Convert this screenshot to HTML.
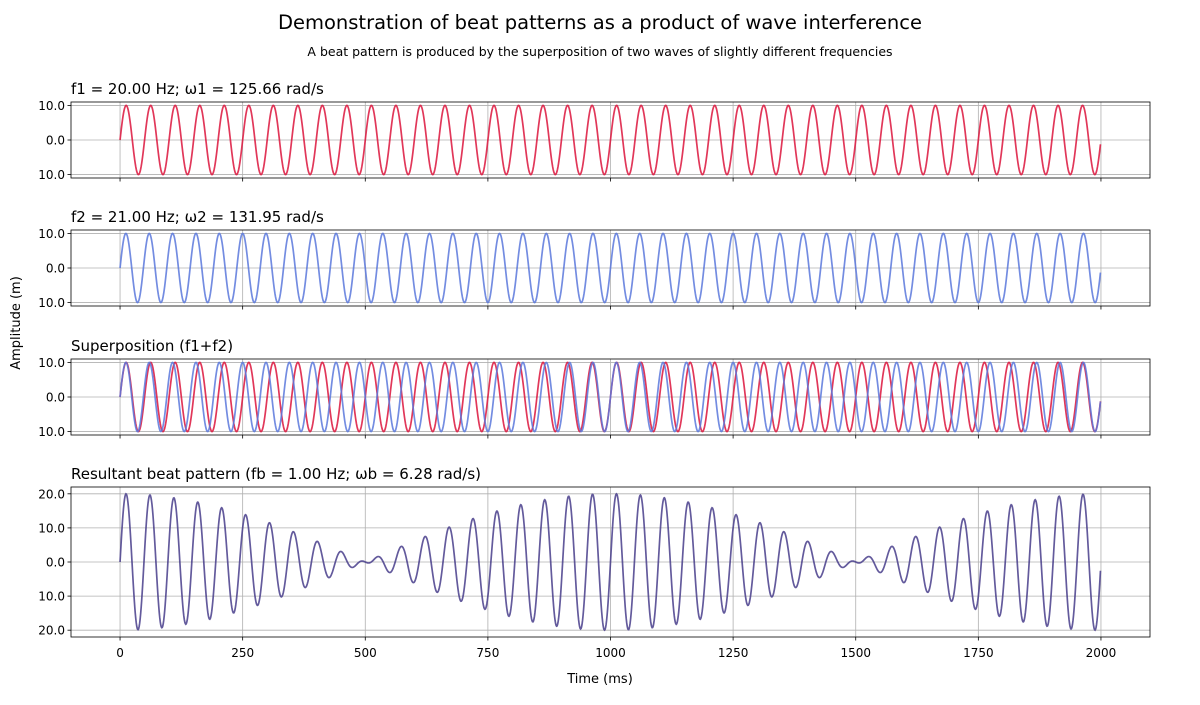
<!DOCTYPE html>
<html><head><meta charset="utf-8"><style>
body{margin:0;background:#fff;font-family:"Liberation Sans","DejaVu Sans",sans-serif}
svg text{font-family:"DejaVu Sans","Liberation Sans",sans-serif}
</style></head><body>
<svg id="chart" width="1200" height="700" viewBox="0 0 1200 700" xmlns="http://www.w3.org/2000/svg">
<text x="600" y="29" text-anchor="middle" font-size="19.5" fill="#000">Demonstration of beat patterns as a product of wave interference</text>
<text x="600" y="56" text-anchor="middle" font-size="12.5" fill="#000">A beat pattern is produced by the superposition of two waves of slightly different frequencies</text>
<text x="0" y="0" transform="translate(20,323) rotate(-90)" text-anchor="middle" font-size="13">Amplitude (m)</text>
<text x="600" y="683" text-anchor="middle" font-size="13">Time (ms)</text>
</svg>
<script>
const frequencies = [20, 21];      // Hz
const amplitudes = [10, 10];       // m
const xTicks = [0, 250, 500, 750, 1000, 1250, 1500, 1750, 2000];
const yTicksSmall = [10, 0, -10];
const yTicksLarge = [20, 10, 0, -10, -20];
const panelTitles = ["f1 = 20.00 Hz; ω1 = 125.66 rad/s", "f2 = 21.00 Hz; ω2 = 131.95 rad/s", "Superposition (f1+f2)", "Resultant beat pattern (fb = 1.00 Hz; ωb = 6.28 rad/s)"];

const svg = document.getElementById('chart');
const NS = 'http://www.w3.org/2000/svg';
function mk(tag, attrs, parent){const e=document.createElementNS(NS,tag);for(const k in attrs)e.setAttribute(k,attrs[k]);(parent||svg).appendChild(e);return e;}
const X0=71, X1=1150, xmin=-100, xmax=2100;
const xs = v => X0 + (v - xmin) / (xmax - xmin) * (X1 - X0);
const times = []; for (let t = 0; t < 2000; t++) times.push(t);
const wave = i => times.map(t => amplitudes[i] * Math.sin(2 * Math.PI * frequencies[i] * t / 1000));
const w1 = wave(0), w2 = wave(1);
const sum = w1.map((v, k) => v + w2[k]);

const panels = [
  {top:102,bot:178,lim:11,ticks:yTicksSmall,series:[[w1,'#dc143c']]},
  {top:230,bot:306,lim:11,ticks:yTicksSmall,series:[[w2,'#5a78dc']]},
  {top:359,bot:435,lim:11,ticks:yTicksSmall,series:[[w1,'#dc143c'],[w2,'#5a78dc']]},
  {top:487,bot:637,lim:22,ticks:yTicksLarge,series:[[sum,'#483d8b']]}
];
panels.forEach((p, pi) => {
  const g = mk('g', {});
  
  
  const ys = v => p.top + (p.lim - v) / (2 * p.lim) * (p.bot - p.top);
  xTicks.forEach(v => {
    mk('line',{x1:xs(v),x2:xs(v),y1:p.top,y2:p.bot,stroke:'#b0b0b0','stroke-width':0.8},g);
    mk('line',{x1:xs(v),x2:xs(v),y1:p.bot,y2:p.bot+3.5,stroke:'#000','stroke-width':0.8},g);
    if (pi === 3) {
      const t = mk('text',{x:xs(v),y:p.bot+20,'text-anchor':'middle','font-size':12},g);
      t.textContent = v;
      
      
    }
  });
  p.ticks.forEach(v => {
    mk('line',{x1:X0,x2:X1,y1:ys(v),y2:ys(v),stroke:'#b0b0b0','stroke-width':0.8},g);
    mk('line',{x1:X0-3.5,x2:X0,y1:ys(v),y2:ys(v),stroke:'#000','stroke-width':0.8},g);
    const t = mk('text',{x:X0-6,y:ys(v)+4.5,'text-anchor':'end','font-size':12},g);
    t.textContent = Math.abs(v).toFixed(1);
    
    
  });
  p.series.forEach(([arr, col], si) => {
    const d = arr.map((v, k) => (k ? 'L' : 'M') + xs(times[k]).toFixed(2) + ',' + ys(v).toFixed(2)).join('');
    const path = mk('path',{d:d,fill:'none',stroke:col,'stroke-width':1.7,'stroke-opacity':0.85},g);
    
    
  });
  mk('rect',{x:X0,y:p.top,width:X1-X0,height:p.bot-p.top,fill:'none',stroke:'#000','stroke-width':0.8},g);
  const tt = mk('text',{x:X0,y:p.top-8,'font-size':15},g);
  tt.textContent = panelTitles[pi];
  
  
});
</script>
</body></html>
